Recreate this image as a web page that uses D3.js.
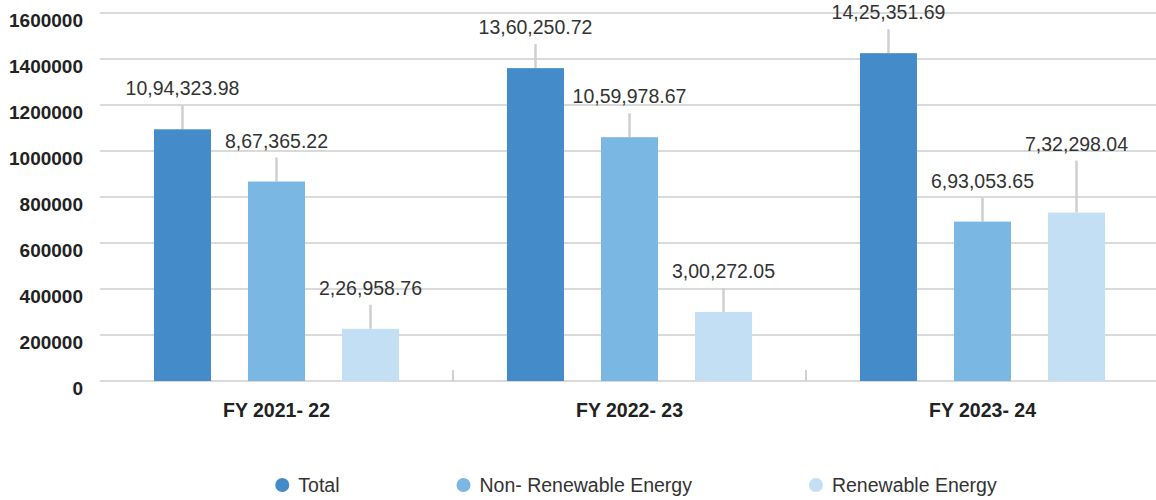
<!DOCTYPE html>
<html>
<head>
<meta charset="utf-8">
<script src="https://cdn.jsdelivr.net/npm/d3@7"></script>
<style>
  html, body { margin: 0; padding: 0; background: #fff; }
  svg { display: block; font-family: "Liberation Sans", Arial, sans-serif; }
</style>
</head>
<body>
<svg id="chart" width="1156" height="500"></svg>
<script>
// ---- data ----
const categories = ["FY 2021- 22", "FY 2022- 23", "FY 2023- 24"];
const seriesNames = ["Total", "Non- Renewable Energy", "Renewable Energy"];
const totalValues = [1094323.98, 1360250.72, 1425351.69];
const nonRenewableValues = [867365.22, 1059978.67, 693053.65];
const renewableValues = [226958.76, 300272.05, 732298.04];
const yTickValues = [0, 200000, 400000, 600000, 800000, 1000000, 1200000, 1400000, 1600000];
const seriesColors = ["#448bca", "#7ab7e3", "#c3dff4"];

const seriesValues = [totalValues, nonRenewableValues, renewableValues];
const labelFmt = v => {
  // Indian grouping format
  const [intPart, dec] = v.toFixed(2).split(".");
  let last3 = intPart.slice(-3), rest = intPart.slice(0, -3);
  if (rest) rest = rest.replace(/\B(?=(\d{2})+(?!\d))/g, ",") + ",";
  return rest + last3 + "." + dec;
};

const svg = d3.select("#chart");
const x = d3.scaleBand().domain(categories).range([100, 1159]).paddingInner(0).paddingOuter(0);
const xs = d3.scaleBand().domain(seriesNames).range([0, x.bandwidth()])
  .paddingInner(37 / 94).paddingOuter(0.574);
const y = d3.scaleLinear().domain([0, 1600000]).range([381, 13]);

const gridG = svg.append("g");
const leaderG = svg.append("g");
const barG = svg.append("g");
const lblG = svg.append("g");

// gridlines
gridG.selectAll("line.grid").data(yTickValues).join("line")
  .attr("class", "grid")
  .attr("x1", 100).attr("x2", 1156)
  .attr("y1", d => y(d)).attr("y2", d => y(d))
  .attr("stroke", "#dadada").attr("stroke-width", 2);

// category separators
gridG.selectAll("line.sep").data(categories.slice(1)).join("line")
  .attr("class", "sep")
  .attr("x1", d => x(d)).attr("x2", d => x(d))
  .attr("y1", y(0) - 11).attr("y2", y(0))
  .attr("stroke", "#d0d0d0").attr("stroke-width", 2);

// y axis labels
svg.append("g").selectAll("text").data(yTickValues).join("text")
  .attr("x", 83).attr("y", d => y(d) + 14)
  .attr("text-anchor", "end")
  .attr("font-size", 19).attr("font-weight", "bold").attr("fill", "#222")
  .text(d => d);

// x axis labels
svg.append("g").selectAll("text").data(categories).join("text")
  .attr("x", d => x(d) + x.bandwidth() / 2).attr("y", 417)
  .attr("text-anchor", "middle")
  .attr("font-size", 19.5).attr("font-weight", "bold").attr("fill", "#222")
  .text(d => d);

// bars
const items = [];
categories.forEach((c, ci) => {
  seriesNames.forEach((s, si) => {
    items.push({ c, ci, s, si, v: seriesValues[si][ci] });
  });
});

barG.selectAll("rect").data(items).join("rect")
  .attr("x", d => x(d.c) + xs(d.s))
  .attr("width", xs.bandwidth())
  .attr("y", d => y(d.v))
  .attr("height", d => y(0) - y(d.v))
  .attr("fill", d => seriesColors[d.si]);

// labels with leader lines
categories.forEach(c => {
  const placed = [];
  items.filter(d => d.c === c).forEach(d => {
    const cx = x(d.c) + xs(d.s) + xs.bandwidth() / 2;
    const t = lblG.append("text")
      .attr("x", cx).attr("text-anchor", "middle")
      .attr("font-size", 19.5).attr("fill", "#333")
      .text(labelFmt(d.v));
    const w = t.node().getComputedTextLength();
    let base = y(d.v) - 34;
    placed.forEach(p => {
      const hOverlap = Math.abs(p.cx - cx) < (p.w + w) / 2;
      if (hOverlap && Math.abs(p.base - base) < 22) base = p.base - 37;
    });
    t.attr("y", base);
    placed.push({ cx, w, base });
    leaderG.append("line")
      .attr("x1", cx).attr("x2", cx)
      .attr("y1", base + 10).attr("y2", y(d.v))
      .attr("stroke", "#cfcfcf").attr("stroke-width", 2.5);
  });
});

// legend
const legend = svg.append("g");
let lx = 0;
seriesNames.forEach((s, i) => {
  const g = legend.append("g");
  g.append("circle").attr("cx", 7).attr("cy", 485).attr("r", 7).attr("fill", seriesColors[i]);
  const t = g.append("text").attr("x", 23).attr("y", 492)
    .attr("font-size", 19.5).attr("fill", "#333").text(s);
  const w = 23 + t.node().getComputedTextLength();
  g.attr("transform", `translate(${lx},0)`);
  lx += w + 117;
});
const totalW = lx - 117;
legend.attr("transform", `translate(${636 - totalW / 2},0)`);
</script>
</body>
</html>
